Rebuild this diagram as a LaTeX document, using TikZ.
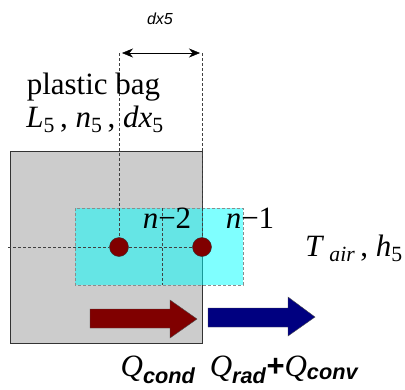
\documentclass[tikz,border=0pt]{standalone}
\usepackage{fontspec}
\setmainfont{Liberation Serif}
\newfontfamily\labelsans{Liberation Sans}
\usetikzlibrary{arrows.meta,positioning}
\definecolor{bagfill}{HTML}{CCCCCC}
\definecolor{bagedge}{HTML}{333333}
\definecolor{cellcyan}{RGB}{0,255,255}
\definecolor{nodered}{HTML}{800000}
\definecolor{convblue}{HTML}{000080}
\newcommand{\bigtext}{\fontsize{31}{36}\selectfont}
\newcommand{\sub}[1]{\textsubscript{#1}}
\newcommand{\qsub}[1]{\textsubscript{\labelsans\bfseries\itshape #1}}

\begin{document}
\begin{tikzpicture}[x=1pt,y=-1pt,
    grid/.style={thin, black!75, dash pattern=on 3pt off 2pt},
    cell/.style={draw=black!45, thin, dash pattern=on 3pt off 2pt, fill=cellcyan, fill opacity=0.5},
    point/.style={circle, draw=black!80, thin, fill=nodered, inner sep=0pt, minimum size=19pt},
    dimarrow/.style={{Stealth[length=11pt,width=9pt]}-{Stealth[length=11pt,width=9pt]}, thin},
    flow/.style={draw=black!70, thin},
    label/.style={font=\bigtext, inner sep=0pt, anchor=base}
  ]
  \useasboundingbox (0,0) rectangle (405,389);

  % plastic bag layer
  \draw[fill=bagfill, draw=bagedge] (10,151) rectangle (202,343);
  \draw[cell] (75,208) rectangle (243,285);
  \draw[grid] (162,208) -- (162,285);

  \node[point] (n2) at (119,247) {};
  \node[point] (n1) at (202,247) {};
  \coordinate (dimL) at (119,53);
  \coordinate (dimR) at (202,53);
  \coordinate (axisL) at (8,247);

  \draw[grid] (dimL) -- (n2);
  \draw[grid] (dimR) -- (n1);
  \draw[grid] (axisL) -- (n2) -- (n1);
  \draw[dimarrow] ([xshift=3pt]dimL) -- ([xshift=-2pt]dimR);

  % heat flow arrows
  \draw[flow, fill=nodered] (90,309) -- (170,309) -- (170,300) -- (197,319)
    -- (170,338) -- (170,328) -- (90,328) -- cycle;
  \draw[flow, fill=convblue] (208,308) -- (288,308) -- (288,297) -- (315,317)
    -- (288,336) -- (288,327) -- (208,327) -- cycle;

  \node[font=\labelsans\itshape\fontsize{16}{18}\selectfont] (dxlabel) at (160,19) {dx5};
  \node[label] (bag) at (93.5,94.5) {plastic bag};
  \node[label] (props) at (95,127) {\textit{L}\sub{5}\,, \textit{n}\sub{5}\,, \textit{dx}\sub{5}};
  \node[label] (ln2) at (167,228) {\textit{n}−2};
  \node[label] (ln1) at (250,228) {\textit{n}−1};
  \node[label, anchor=base east] (air) at (403,256) {\textit{T}\,\textsubscript{\itshape air}\,, \textit{h}\sub{5}};
  \node[label] (qcond) at (158,376) {\textit{Q}\qsub{cond}};
  \node[label] (qout) at (284,376) {\textit{Q}\qsub{rad}{\labelsans\bfseries +}\textit{Q}\qsub{conv}};
\end{tikzpicture}
\end{document}
